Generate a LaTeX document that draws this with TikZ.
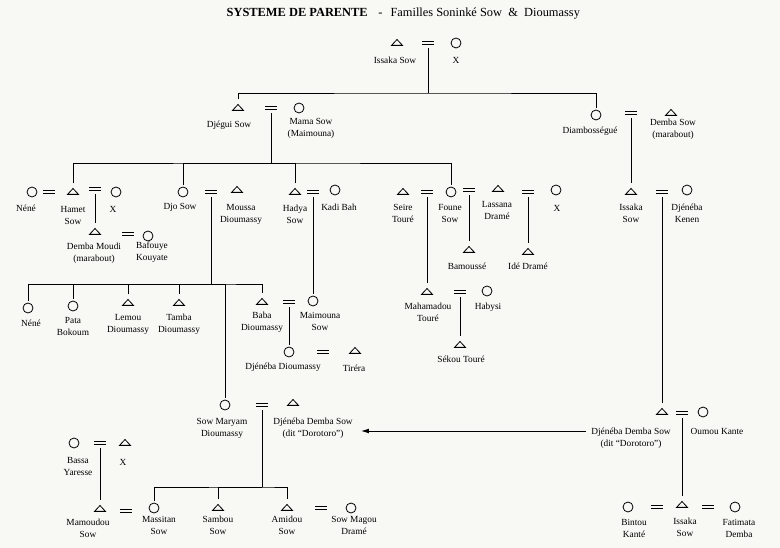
\documentclass[tikz,border=0pt]{standalone}
\usepackage{fontspec}
\setmainfont{Liberation Serif}
\usetikzlibrary{shapes.geometric,arrows.meta}
\definecolor{paper}{RGB}{248,248,245}
\begin{document}
\begin{tikzpicture}[x=0.75pt, y=-0.75pt,
    male/.style={draw, isosceles triangle, isosceles triangle stretches, shape border rotate=90, minimum width=8.2pt, minimum height=4.4pt, inner sep=0pt, outer sep=1.5pt, line width=0.6pt},
    female/.style={draw, circle, minimum size=7.5pt, inner sep=0pt, outer sep=1.5pt, line width=0.6pt},
    eq/.style={minimum width=8.5pt, minimum height=2.6pt, inner sep=0pt, outer sep=0pt, append after command={(\tikzlastnode.north west) edge[line width=0.6pt] (\tikzlastnode.north east) (\tikzlastnode.south west) edge[line width=0.6pt] (\tikzlastnode.south east)}},
    who/.style={font=\fontsize{7}{9}\selectfont, align=center, inner sep=1pt},
    kin/.style={line width=0.7pt},
    desc/.style={kin, shorten <=2.5pt}]
    \fill[paper] (0,0) rectangle (780,548);
    \path[use as bounding box] (0,0) rectangle (780,548);
    \node[anchor=west, font=\fontsize{9.3}{11}\selectfont] (title) at (222,14) {\textbf{SYSTEME DE PARENTE}\hspace{8pt}-\hspace{6pt}Familles Soninké Sow\ \ \&\ \ Dioumassy};

    \node[male] (issaka1) at (397,43) {};
    \node[eq] (e1) at (428,43) {};
    \node[female] (x1) at (456,43) {};
    \node[who] (issaka1L) at (395,60) {Issaka Sow};
    \node[who] (x1L) at (456,60) {X};

    \node[male] (djegui) at (238,108) {};
    \node[eq] (e2) at (271,108) {};
    \node[female] (mama) at (299,108) {};
    \node[who] (djeguiL) at (229,125) {Djégui Sow};
    \node[who] (mamaL) at (311,128) {Mama Sow\\(Maimouna)};
    \node[female] (diam) at (596,115) {};
    \node[eq] (e3) at (631,113) {};
    \node[male] (demba1) at (671,113) {};
    \node[who] (diamL) at (590,131) {Diambosségué};
    \node[who] (demba1L) at (673,129.5) {Demba Sow\\(marabout)};

    \node[female] (nene1) at (32,192) {};
    \node[eq] (e4) at (49,192) {};
    \node[male] (hamet) at (73,192) {};
    \node[eq] (e5) at (95,189) {};
    \node[female] (x2) at (116,192) {};
    \node[who] (nene1L) at (26,208) {Néné};
    \node[who] (hametL) at (73,215) {Hamet\\Sow};
    \node[who] (x2L) at (113,209) {X};
    \node[female] (djo) at (183,192) {};
    \node[eq] (e6) at (211,192) {};
    \node[male] (moussa) at (237,190) {};
    \node[who] (djoL) at (180,207) {Djo Sow};
    \node[who] (moussaL) at (241,214) {Moussa\\Dioumassy};
    \node[male] (hadya) at (295,192) {};
    \node[eq] (e7) at (313,192) {};
    \node[female] (kadi) at (335,190) {};
    \node[who] (hadyaL) at (295,214) {Hadya\\Sow};
    \node[who] (kadiL) at (339,207) {Kadi Bah};
    \node[male] (seire) at (403,192) {};
    \node[eq] (e8) at (427,192) {};
    \node[female] (foune) at (451,192) {};
    \node[eq] (e9) at (469,190) {};
    \node[male] (lassana) at (498,189) {};
    \node[eq] (e10) at (528,192) {};
    \node[female] (x3) at (556,190) {};
    \node[who] (seireL) at (403,213) {Seire\\Touré};
    \node[who] (founeL) at (450,213.5) {Foune\\Sow};
    \node[who] (lassanaL) at (497,210) {Lassana\\Dramé};
    \node[who] (x3L) at (557,208) {X};
    \node[male] (issaka2) at (631,192) {};
    \node[eq] (e11) at (662,192) {};
    \node[female] (djeneba1) at (687,190) {};
    \node[who] (issaka2L) at (631,213) {Issaka\\Sow};
    \node[who] (djeneba1L) at (687,213) {Djénéba\\Kenen};

    \node[male] (demba2) at (95,232) {};
    \node[eq] (e12) at (128,234) {};
    \node[female] (bafouye) at (148,236) {};
    \node[who] (demba2L) at (94,253.5) {Demba Moudi\\(marabout)};
    \node[who] (bafouyeL) at (152,252.5) {Bafouye\\Kouyate};
    \node[male] (bamousse) at (469,250) {};
    \node[who] (bamousseL) at (467,266) {Bamoussé};
    \node[male] (ide) at (528,252) {};
    \node[who] (ideL) at (528,266) {Idé Dramé};
    \node[male] (mahamadou) at (427,292) {};
    \node[eq] (e13) at (460,292) {};
    \node[female] (habysi) at (487,291) {};
    \node[who] (mahamadouL) at (428,312) {Mahamadou\\Touré};
    \node[who] (habysiL) at (488,307) {Habysi};
    \node[male] (sekou) at (460,345) {};
    \node[who] (sekouL) at (461,359) {Sékou Touré};

    \node[female] (nene2) at (28,308) {};
    \node[female] (pata) at (73,306) {};
    \node[male] (lemou) at (128,303) {};
    \node[male] (tamba) at (179,303) {};
    \node[male] (baba) at (262,302) {};
    \node[eq] (e14) at (289,302) {};
    \node[female] (maimouna) at (313,301) {};
    \node[who] (nene2L) at (31,323) {Néné};
    \node[who] (pataL) at (73,326) {Pata\\Bokoum};
    \node[who] (lemouL) at (128,324.5) {Lemou\\Dioumassy};
    \node[who] (tambaL) at (179,324.5) {Tamba\\Dioumassy};
    \node[who] (babaL) at (262,322) {Baba\\Dioumassy};
    \node[who] (maimounaL) at (320,321) {Maimouna\\Sow};
    \node[female] (djeneba2) at (289,352) {};
    \node[eq] (e15) at (323,352) {};
    \node[male] (tirera) at (355,351) {};
    \node[who] (djeneba2L) at (283,367) {Djénéba Dioumassy};
    \node[who] (tireraL) at (354,368) {Tiréra};

    \node[female] (maryam) at (225,405) {};
    \node[eq] (e16) at (262,405) {};
    \node[male] (dorotoro1) at (293,403) {};
    \node[who] (maryamL) at (222,428) {Sow Maryam\\Dioumassy};
    \node[who] (dorotoro1L) at (313,428) {Djénéba Demba Sow\\(dit “Dorotoro”)};
    \node[male] (dorotoro2) at (662,412) {};
    \node[eq] (e17) at (682,413) {};
    \node[female] (oumou) at (703,412) {};
    \node[who] (dorotoro2L) at (631,438) {Djénéba Demba Sow\\(dit “Dorotoro”)};
    \node[who] (oumouL) at (717,431) {Oumou Kante};

    \node[female] (bassa) at (74,443) {};
    \node[eq] (e21) at (100,443) {};
    \node[male] (x4) at (125,443) {};
    \node[who] (bassaL) at (78,466.5) {Bassa\\Yaresse};
    \node[who] (x4L) at (123,462) {X};
    \node[male] (mamoudou) at (100,509) {};
    \node[eq] (e20) at (126,511) {};
    \node[female] (massitan) at (154,508) {};
    \node[male] (sambou) at (218,508) {};
    \node[male] (amidou) at (287,508) {};
    \node[eq] (e19) at (321,508) {};
    \node[female] (magou) at (351,508) {};
    \node[who] (mamoudouL) at (88,528.5) {Mamoudou\\Sow};
    \node[who] (massitanL) at (159,525) {Massitan\\Sow};
    \node[who] (sambouL) at (218,525.5) {Sambou\\Sow};
    \node[who] (amidouL) at (287,525.5) {Amidou\\Sow};
    \node[who] (magouL) at (354,525.5) {Sow Magou\\Dramé};

    \node[female] (bintou) at (628,507) {};
    \node[eq] (e22) at (657,507) {};
    \node[male] (issaka3) at (682,505) {};
    \node[eq] (e23) at (708,507) {};
    \node[female] (fatimata) at (735,507) {};
    \node[who] (bintouL) at (634,528.5) {Bintou\\Kanté};
    \node[who] (issaka3L) at (685,527) {Issaka\\Sow};
    \node[who] (fatimataL) at (739,528.5) {Fatimata\\Demba};

    \coordinate (b1) at (428,93);
    \coordinate (b2) at (271,163);
    \coordinate (b3) at (211,284);
    \coordinate (b4) at (262,487);
    \draw[desc] (e1) -- (b1);
    \draw[kin] (djegui) |- (b1) -| (diam);
    \draw[desc] (e2) -- (b2);
    \draw[kin] (hamet) |- (b2) -| (foune);
    \draw[kin] (djo) |- (b2);
    \draw[kin] (hadya) |- (b2);
    \draw[desc] (e3) -- (issaka2);
    \draw[desc] (e5) -- (demba2);
    \draw[desc] (e6) -- (b3);
    \draw[kin] (nene2) |- (b3) -| (baba);
    \draw[kin] (pata) |- (b3);
    \draw[kin] (lemou) |- (b3);
    \draw[kin] (tamba) |- (b3);
    \draw[kin] (maryam) |- (b3);
    \draw[desc] (e7) -- (maimouna);
    \draw[desc] (e8) -- (mahamadou);
    \draw[desc] (e9) -- (bamousse);
    \draw[desc] (e10) -- (ide);
    \draw[desc] (e11) -- (dorotoro2);
    \draw[desc] (e13) -- (sekou);
    \draw[desc] (e14) -- (djeneba2);
    \draw[desc] (e16) -- (b4);
    \draw[kin] (massitan) |- (b4) -| (amidou);
    \draw[kin] (sambou) |- (b4);
    \draw[desc] (e21) -- (mamoudou);
    \draw[desc] (e17) -- (issaka3);
    \draw[kin, -{Latex[length=6pt,width=3.6pt]}, shorten <=3pt, shorten >=5pt] ([yshift=5.25pt]dorotoro2L.west) -- ([yshift=-2.25pt]dorotoro1L.east);
\end{tikzpicture}
\end{document}
